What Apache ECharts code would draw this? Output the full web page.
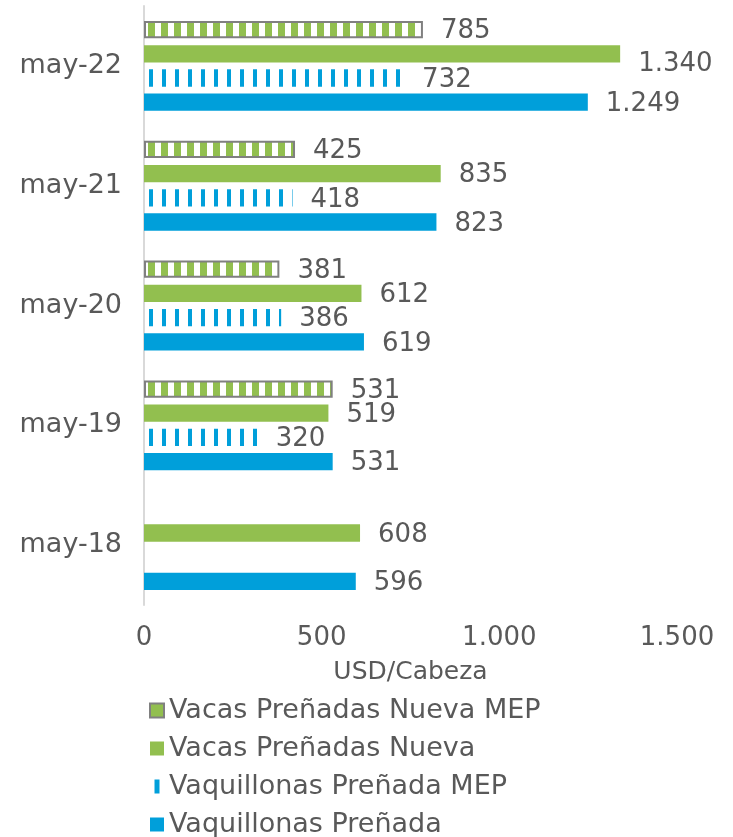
<!DOCTYPE html>
<html>
<head>
<meta charset="utf-8">
<script src="https://cdn.jsdelivr.net/npm/echarts@6/dist/echarts.min.js"></script>
<style>
html, body { margin: 0; padding: 0; background: #fff; }
#main { width: 733px; height: 837px; }
</style>
</head>
<body>
<div id="main"></div>
<script>
var categories = ['may-18', 'may-19', 'may-20', 'may-21', 'may-22'];
var vaquillonas = [596, 531, 619, 823, 1249];
var vaquillonasMep = [null, 320, 386, 418, 732];
var vacasNueva = [608, 519, 612, 835, 1340];
var vacasNuevaMep = [null, 531, 381, 425, 785];
var xTicks = [0, 500, 1000, 1500];

var blue = '#009fda';
var green = '#92bf4f';
var gray = '#808080';
var txt = '#595959';
var font = 'DejaVu Sans';

// vertical stripe fill for the MEP bars
function stripes(fg, bg, period, x, w) {
    var c = document.createElement('canvas');
    c.width = period; c.height = 4;
    var ctx = c.getContext('2d');
    if (bg) { ctx.fillStyle = bg; ctx.fillRect(0, 0, period, 4); }
    ctx.fillStyle = fg;
    ctx.fillRect(x, 0, w, 4);
    return c;
}

function fmt(v) {
    return String(v).replace(/\B(?=(\d{3})+(?!\d))/g, '.');
}

var mychart = echarts.init(document.getElementById('main'));

var label = {
    show: true,
    position: 'right',
    distance: 18,
    color: txt,
    fontFamily: font,
    fontSize: 26,
    offset: [0, 2],
    formatter: function (p) { return fmt(p.value); }
};

// the 1.340 label sits a little lower in the original
var vacasNuevaData = vacasNueva.map(function (v, i) {
    return i === 4 ? { value: v, label: { offset: [0, 10] } } : v;
});

option = {
    animation: false,
    grid: { left: 144, right: 56, top: 6, bottom: 232, containLabel: false },
    legend: {
        orient: 'vertical',
        left: 144,
        top: 692,
        height: 200,
        itemWidth: 14,
        itemHeight: 14,
        itemGap: 11,
        textStyle: { color: txt, fontFamily: font, fontSize: 27 },
        data: [
            { name: 'Vacas Preñadas Nueva MEP', icon: 'rect',
              itemStyle: { color: green, borderColor: gray, borderWidth: 2 } },
            { name: 'Vacas Preñadas Nueva', icon: 'rect', itemStyle: { color: green } },
            { name: 'Vaquillonas Preñada MEP', icon: 'path://M0,0 L5,0 L5,14 L0,14 Z',
              itemStyle: { color: blue } },
            { name: 'Vaquillonas Preñada', icon: 'rect', itemStyle: { color: blue } }
        ]
    },
    xAxis: {
        type: 'value',
        min: 0,
        max: 1500,
        interval: 500,
        name: 'USD/Cabeza',
        nameLocation: 'middle',
        nameGap: 55,
        nameTextStyle: { color: txt, fontFamily: font, fontSize: 25 },
        axisLine: { show: false },
        axisTick: { show: false },
        splitLine: { show: false },
        axisLabel: {
            color: txt, fontFamily: font, fontSize: 26, margin: 20,
            formatter: function (v) { return xTicks.indexOf(v) >= 0 ? fmt(v) : ''; }
        }
    },
    yAxis: {
        type: 'category',
        data: categories,
        axisLine: { show: true, lineStyle: { color: '#d9d9d9', width: 2 } },
        axisTick: { show: false },
        axisLabel: { color: txt, fontFamily: font, fontSize: 27, margin: 22 }
    },
    series: [
        {
            name: 'Vacas Preñadas Nueva MEP', type: 'bar', data: vacasNuevaMep,
            barGap: '40%', barCategoryGap: '25%',
            itemStyle: {
                color: { image: stripes(green, '#fff', 13, 5, 7), repeat: 'repeat' },
                borderColor: gray, borderWidth: 2
            },
            label: label
        },
        {
            name: 'Vacas Preñadas Nueva', type: 'bar', data: vacasNuevaData,
            itemStyle: { color: green }, label: label
        },
        {
            name: 'Vaquillonas Preñada MEP', type: 'bar', data: vaquillonasMep,
            itemStyle: { color: { image: stripes(blue, null, 13, 6, 4), repeat: 'repeat' } },
            label: label
        },
        {
            name: 'Vaquillonas Preñada', type: 'bar', data: vaquillonas,
            itemStyle: { color: blue }, label: label
        }
    ]
};
mychart.setOption(option);
</script>
</body>
</html>
